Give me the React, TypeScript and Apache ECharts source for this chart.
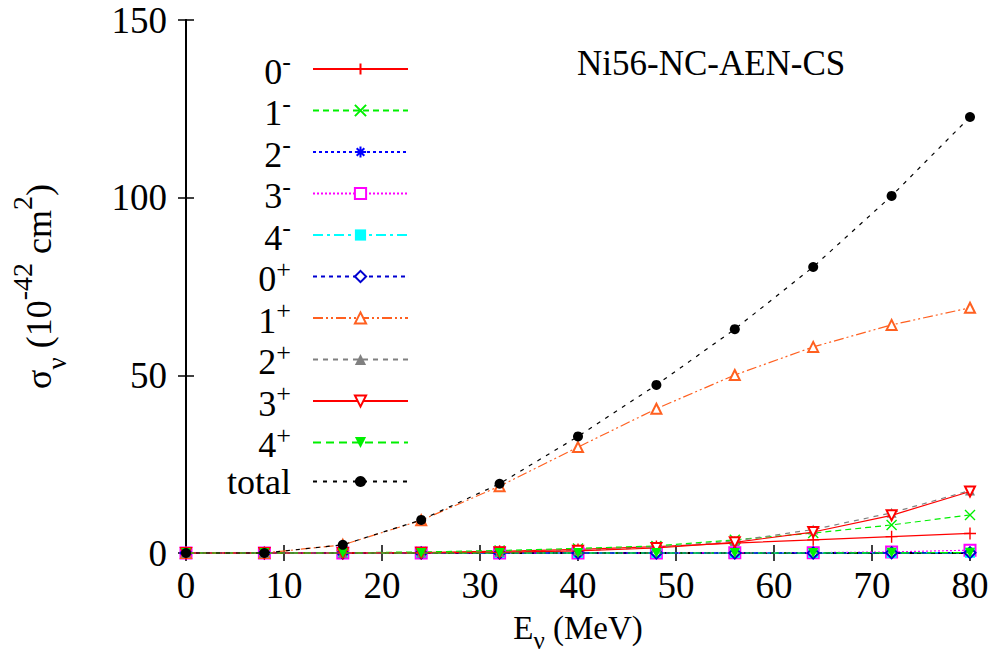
import React, { useEffect, useRef } from "react";
import * as echarts from "echarts";

// ---- data ----
const energies = [0, 8, 16, 24, 32, 40, 48, 56, 64, 72, 80];

const sig0m = [0, 0, 0, 0.1, 0.5, 1.0, 1.8, 2.8, 3.7, 4.6, 5.5];
const sig1m = [0, 0, 0.05, 0.3, 0.7, 1.3, 2.0, 3.7, 5.6, 7.9, 10.7];
const sig2m = [0, 0, 0, 0, 0, 0, 0, 0, 0.05, 0.1, 0.15];
const sig3m = [0, 0, 0, 0, 0, 0, 0, 0.05, 0.1, 0.3, 0.8];
const sig4m = [0, 0, 0, 0, 0, 0, 0, 0, 0, 0, 0.05];
const sig0p = [0, 0, 0, 0, 0, 0, 0, 0, 0, 0.05, 0.1];
const sig1p = [0, 0, 2.3, 9.2, 18.8, 29.8, 40.6, 50.1, 58.0, 64.2, 69.0];
const sig2p = [0, 0, 0, 0.05, 0.3, 0.7, 1.6, 3.4, 6.6, 11.3, 17.6];
const sig3p = [0, 0, 0, 0.05, 0.2, 0.6, 1.4, 3.0, 5.9, 10.6, 17.3];
const sig4p = [0, 0, 0, 0, 0, 0, 0, 0, 0, 0.05, 0.1];
const sigTotal = [0, 0, 2.3, 9.3, 19.5, 32.8, 47.3, 63.0, 80.5, 100.5, 122.7];

const seriesNames = ["0-", "1-", "2-", "3-", "4-", "0+", "1+", "2+", "3+", "4+", "total"];
const seriesValues = [sig0m, sig1m, sig2m, sig3m, sig4m, sig0p, sig1p, sig2p, sig3p, sig4p, sigTotal];

const xTicks = { min: 0, max: 80, interval: 10 };
const yTicks = { min: 0, max: 150, interval: 50 };
const titleText = "Ni56-NC-AEN-CS";

// ---- styles ----
const FONT = "'Liberation Serif', 'DejaVu Serif', serif";
const PLUS = "path://M0,5L10,5M5,0L5,10";
const CROSS = "path://M0,0L10,10M10,0L0,10";
const STAR = "path://M0,5L10,5M5,0L5,10M1.6,1.6L8.4,8.4M8.4,1.6L1.6,8.4";

type Sty = { color: string; dash: any; symbol: string; size: number; rotate?: number; stroke?: boolean };
const styles: Sty[] = [
  { color: "#ff0000", dash: "solid", symbol: PLUS, size: 12, stroke: true },
  { color: "#00f000", dash: [6, 4], symbol: CROSS, size: 10, stroke: true },
  { color: "#0000ff", dash: [3, 3], symbol: STAR, size: 11, stroke: true },
  { color: "#ff00ff", dash: [2, 2], symbol: "emptyRect", size: 11 },
  { color: "#00ffff", dash: [10, 4, 3, 4], symbol: "rect", size: 10 },
  { color: "#0000d0", dash: [4, 4], symbol: "emptyDiamond", size: 11 },
  { color: "#ff6020", dash: [10, 3, 2, 3, 2, 3], symbol: "emptyTriangle", size: 10 },
  { color: "#808080", dash: [5, 5], symbol: "triangle", size: 10 },
  { color: "#ff0000", dash: "solid", symbol: "emptyTriangle", size: 10, rotate: 180 },
  { color: "#00f000", dash: [8, 5], symbol: "triangle", size: 10, rotate: 180 },
  { color: "#000000", dash: [4, 6], symbol: "circle", size: 10 },
];

export default function App() {
  const ref = useRef<HTMLDivElement>(null);
  useEffect(() => {
    if (!ref.current) return;
    const chart = echarts.init(ref.current, undefined, { renderer: "svg" });

    const series = seriesNames.map((name, i) => {
      const s = styles[i];
      return {
        name,
        type: "line",
        data: energies.map((e, k) => [e, seriesValues[i][k]]),
        symbol: s.symbol,
        symbolSize: s.size,
        symbolRotate: s.rotate || 0,
        showAllSymbol: true,
        clip: false,
        lineStyle: { color: s.color, width: 1.2, type: s.dash },
        itemStyle: s.stroke
          ? { color: s.color, borderColor: s.color, borderWidth: 1.4 }
          : { color: s.color },
        emphasis: { disabled: true },
        z: 2 + i,
      };
    });

    const axisLine = { show: true, lineStyle: { color: "#000", width: 2 } };
    const axisTick = { show: true, inside: true, length: 8, lineStyle: { color: "#000", width: 1.5 } };
    const labelStyle = { fontFamily: FONT, fontSize: 37, color: "#000" };

    chart.setOption({
      animation: false,
      backgroundColor: "#fff",
      title: {
        text: titleText,
        left: 577,
        top: 46,
        padding: 0,
        textStyle: { fontFamily: FONT, fontSize: 35, fontWeight: "normal", color: "#000" },
      },
      grid: { left: 184, right: 26, top: 20, bottom: 111, containLabel: false },
      legend: {
        orient: "vertical",
        right: 587,
        top: 48.5,
        padding: 0,
        itemGap: 0.5,
        itemWidth: 95,
        itemHeight: 14,
        align: "right",
        selectedMode: false,
        data: seriesNames,
        formatter: (name: string) =>
          name === "total" ? "{t|total}" : `{n|${name.slice(0, 1)}}{s|${name.slice(1)}}`,
        textStyle: {
          fontFamily: FONT,
          color: "#000",
          padding: [0, 17, 0, 0],
          rich: {
            n: { fontFamily: FONT, fontSize: 36, lineHeight: 41, verticalAlign: "bottom", color: "#000" },
            s: { fontFamily: FONT, fontSize: 26, lineHeight: 41, verticalAlign: "top", color: "#000" },
            t: { fontFamily: FONT, fontSize: 36, lineHeight: 41, verticalAlign: "middle", color: "#000" },
          },
        },
      },
      xAxis: [
        {
          type: "value",
          position: "bottom",
          ...xTicks,
          axisLine,
          axisTick,
          splitLine: { show: false },
          axisLabel: { ...labelStyle, margin: 14 },
          name: "{a|E}{b|ν}{a| (MeV)}",
          nameLocation: "middle",
          nameGap: 50,
          nameTextStyle: {
            rich: {
              a: { fontFamily: FONT, fontSize: 33, lineHeight: 50, verticalAlign: "middle", color: "#000" },
              b: { fontFamily: FONT, fontSize: 25, lineHeight: 50, verticalAlign: "bottom", color: "#000" },
            },
          },
        },
        {
          type: "value",
          position: "top",
          ...xTicks,
          axisLine,
          axisTick,
          splitLine: { show: false },
          axisLabel: { show: false },
        },
      ],
      yAxis: [
        {
          type: "value",
          position: "left",
          ...yTicks,
          axisLine,
          axisTick,
          splitLine: { show: false },
          axisLabel: { ...labelStyle, margin: 19 },
          name: "{a|σ}{b|ν}{a| (10}{c|-42}{a| cm}{c|2}{a|)}",
          nameLocation: "middle",
          nameGap: 116,
          nameTextStyle: {
            rich: {
              a: { fontFamily: FONT, fontSize: 36, lineHeight: 62, verticalAlign: "middle", color: "#000" },
              b: { fontFamily: FONT, fontSize: 27, lineHeight: 62, verticalAlign: "bottom", color: "#000" },
              c: { fontFamily: FONT, fontSize: 28, lineHeight: 62, verticalAlign: "top", color: "#000" },
            },
          },
        },
        {
          type: "value",
          position: "right",
          ...yTicks,
          axisLine,
          axisTick,
          splitLine: { show: false },
          axisLabel: { show: false },
        },
      ],
      series,
    });
    return () => chart.dispose();
  }, []);

  return (
    <div
      ref={ref}
      style={{ position: "fixed", left: 0, top: 0, width: 996, height: 664, background: "#fff" }}
    />
  );
}
